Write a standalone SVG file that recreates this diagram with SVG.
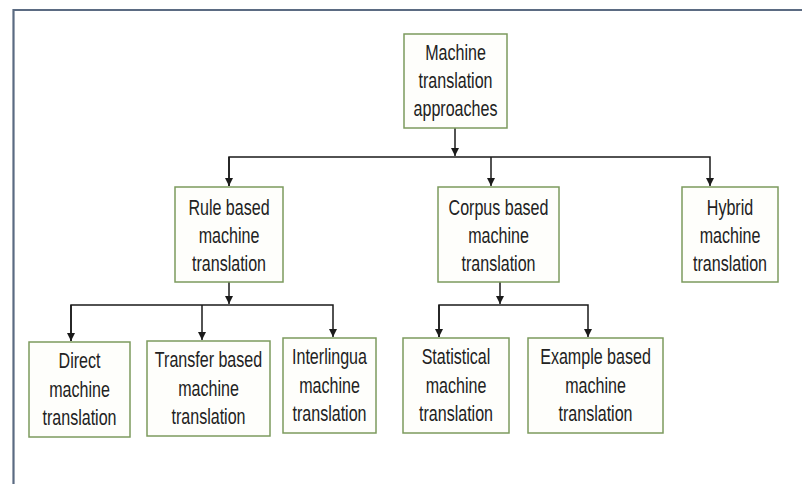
<svg xmlns="http://www.w3.org/2000/svg" width="802" height="484" viewBox="0 0 802 484">
<style>
.box{fill:#fefefb;stroke:#7c9a5e;stroke-width:1.5}
.lbl{font-family:"Liberation Sans",Arial,sans-serif;font-size:22px;fill:#222222;text-anchor:middle}
.ln{fill:none;stroke:#1a1a1a;stroke-width:1.5}
</style>
<defs>
<marker id="ah" viewBox="0 0 8 10" refX="8" refY="5" markerWidth="8" markerHeight="10" markerUnits="userSpaceOnUse" orient="auto">
<path d="M0,1 L8,5 L0,9 Z" fill="#1a1a1a"/>
</marker>
</defs>
<rect x="0" y="0" width="802" height="484" fill="#ffffff"/>
<path d="M13.5,484 V10 H802" fill="none" stroke="#5b6b82" stroke-width="2.2"/>
<g id="connectors">
<path class="ln" d="M455,128 V156" marker-end="url(#ah)"/>
<path class="ln" d="M229,186 V157 H710 V186" marker-end="url(#ah)"/>
<path class="ln" d="M229,157 V186" marker-end="url(#ah)"/>
<path class="ln" d="M491,157 V186" marker-end="url(#ah)"/>
<path class="ln" d="M229,282 V304" marker-end="url(#ah)"/>
<path class="ln" d="M71,341 V305 H333 V337" marker-end="url(#ah)"/>
<path class="ln" d="M71,305 V341" marker-end="url(#ah)"/>
<path class="ln" d="M202,305 V340" marker-end="url(#ah)"/>
<path class="ln" d="M500,282 V304" marker-end="url(#ah)"/>
<path class="ln" d="M439,337 V305 H588 V337" marker-end="url(#ah)"/>
<path class="ln" d="M439,305 V337" marker-end="url(#ah)"/>
</g>
<g id="root">
<rect class="box" x="404" y="34" width="103" height="94"/>
<text class="lbl" transform="translate(455.5,0) scale(0.73,1)"><tspan x="0" y="60">Machine</tspan><tspan x="0" y="88">translation</tspan><tspan x="0" y="116">approaches</tspan></text>
</g>
<g id="rule">
<rect class="box" x="175" y="187" width="108" height="95"/>
<text class="lbl" transform="translate(229,0) scale(0.73,1)"><tspan x="0" y="215">Rule based</tspan><tspan x="0" y="243">machine</tspan><tspan x="0" y="271.5">translation</tspan></text>
</g>
<g id="corpus">
<rect class="box" x="438" y="187" width="121" height="95"/>
<text class="lbl" transform="translate(498.5,0) scale(0.73,1)"><tspan x="0" y="215">Corpus based</tspan><tspan x="0" y="243">machine</tspan><tspan x="0" y="271.5">translation</tspan></text>
</g>
<g id="hybrid">
<rect class="box" x="682" y="187" width="96" height="95"/>
<text class="lbl" transform="translate(730,0) scale(0.73,1)"><tspan x="0" y="215">Hybrid</tspan><tspan x="0" y="243">machine</tspan><tspan x="0" y="271.5">translation</tspan></text>
</g>
<g id="direct">
<rect class="box" x="29" y="342" width="101" height="95"/>
<text class="lbl" transform="translate(79.5,0) scale(0.73,1)"><tspan x="0" y="368.5">Direct</tspan><tspan x="0" y="397">machine</tspan><tspan x="0" y="425.5">translation</tspan></text>
</g>
<g id="transfer">
<rect class="box" x="147" y="341" width="123" height="95"/>
<text class="lbl" transform="translate(208.5,0) scale(0.73,1)"><tspan x="0" y="367.5">Transfer based</tspan><tspan x="0" y="396">machine</tspan><tspan x="0" y="424.5">translation</tspan></text>
</g>
<g id="interlingua">
<rect class="box" x="283" y="338" width="93" height="95"/>
<text class="lbl" transform="translate(329.5,0) scale(0.73,1)"><tspan x="0" y="364.5">Interlingua</tspan><tspan x="0" y="393">machine</tspan><tspan x="0" y="421.5">translation</tspan></text>
</g>
<g id="statistical">
<rect class="box" x="403" y="338" width="106" height="95"/>
<text class="lbl" transform="translate(456,0) scale(0.73,1)"><tspan x="0" y="364.5">Statistical</tspan><tspan x="0" y="393">machine</tspan><tspan x="0" y="421.5">translation</tspan></text>
</g>
<g id="example">
<rect class="box" x="528" y="338" width="135" height="95"/>
<text class="lbl" transform="translate(595.5,0) scale(0.73,1)"><tspan x="0" y="364.5">Example based</tspan><tspan x="0" y="393">machine</tspan><tspan x="0" y="421.5">translation</tspan></text>
</g>
</svg>
